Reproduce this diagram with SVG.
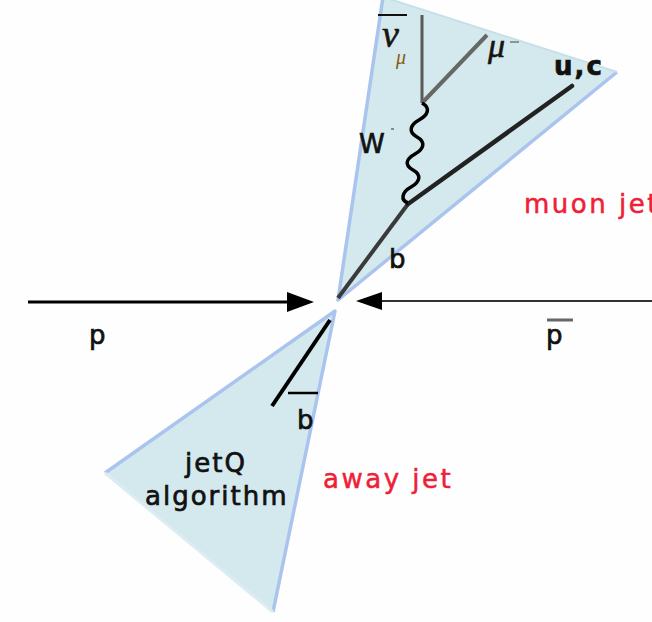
<svg xmlns="http://www.w3.org/2000/svg" width="652" height="622" viewBox="0 0 652 622">
<style>
.cone{fill:#d3e9ee;stroke:none}
.edge{fill:none;stroke:#aac4ee;stroke-width:3.5;stroke-linejoin:round}
.edge2{fill:none;stroke:#dcecf2;stroke-width:3}
.lbl{font-family:"DejaVu Sans",sans-serif;font-size:26px;fill:#111;stroke:#111;stroke-width:0.7px;letter-spacing:2px}
.red{font-family:"DejaVu Sans",sans-serif;font-size:26px;fill:#ee2036;stroke:#ee2036;stroke-width:0.5px;letter-spacing:2.5px}
.greek{font-family:"Liberation Serif",serif;font-style:italic}
</style>
<rect width="652" height="622" fill="#fefefe"/>
<g id="muon-cone">
<polygon class="cone" points="338,300 383,-3 617,72"/>
<polyline class="edge" points="383,-3 338,300 617,72"/>
<line x1="383" y1="-3" x2="617" y2="72" stroke="#c6e0ea" stroke-width="2"/>
</g>
<g id="away-cone">
<polygon class="cone" points="335,311 105,473 273,612"/>
<polyline class="edge" points="105,473 335,311 273,612"/>
<line class="edge2" x1="105" y1="473" x2="273" y2="612"/>
</g>
<g id="connectors">
<line x1="28" y1="302" x2="290" y2="302" stroke="#000" stroke-width="3"/>
<polygon points="287,292 314,302 287,312" fill="#000"/>
<line x1="652" y1="301" x2="378" y2="301" stroke="#333" stroke-width="1.8"/>
<polygon points="382,292 356,301 382,310" fill="#000"/>
<line x1="338" y1="298" x2="408" y2="204" stroke="#3a3a3a" stroke-width="4"/>
<line x1="408" y1="204" x2="572" y2="86" stroke="#222" stroke-width="4.5" stroke-linecap="round"/>
<line x1="422" y1="15" x2="422" y2="103" stroke="#595959" stroke-width="3"/>
<line x1="422" y1="103" x2="487" y2="35" stroke="#676767" stroke-width="4"/>
<path d="M422,103 C431,108 428,115 419,120 C410,125 408,132 417,137 C426,142 424,149 415,154 C406,159 404,165 413,170 C422,175 420,182 411,187 C402,192 400,200 408,203" fill="none" stroke="#000" stroke-width="3.5"/>
<line x1="330" y1="320" x2="272" y2="406" stroke="#000" stroke-width="4"/>
</g>
<g id="labels">
<text class="lbl" x="89" y="344">p</text>
<line x1="547" y1="320" x2="573" y2="320" stroke="#666" stroke-width="3"/>
<text class="lbl" x="546" y="344">p</text>
<line x1="378" y1="15" x2="407" y2="15" stroke="#111" stroke-width="2"/>
<text class="greek" x="382" y="47" font-size="38" fill="#1a1410" stroke="#1a1410" stroke-width="0.6">ν</text>
<text class="greek" x="396" y="64" font-size="20" fill="#8a5a10">μ</text>
<text class="greek" x="488" y="57" font-size="34" fill="#1a1410" stroke="#1a1410" stroke-width="0.6">μ</text>
<line x1="510" y1="42" x2="519" y2="42" stroke="#777" stroke-width="1.5"/>
<text class="lbl" x="554" y="75" font-weight="bold" letter-spacing="0" stroke-width="0">u,c</text>
<text class="lbl" x="359" y="153" letter-spacing="0">W</text>
<rect x="391" y="128" width="3" height="2" fill="#888"/>
<text class="lbl" x="389" y="268" letter-spacing="0">b</text>
<line x1="288" y1="393" x2="318" y2="393" stroke="#000" stroke-width="2.5"/>
<text class="lbl" x="297" y="429" letter-spacing="0">b</text>
<text class="lbl" x="185" y="472">jetQ</text>
<text class="lbl" x="145" y="505">algorithm</text>
<text class="red" x="323" y="488">away jet</text>
<text class="red" x="524" y="213">muon jet</text>
</g>
</svg>
